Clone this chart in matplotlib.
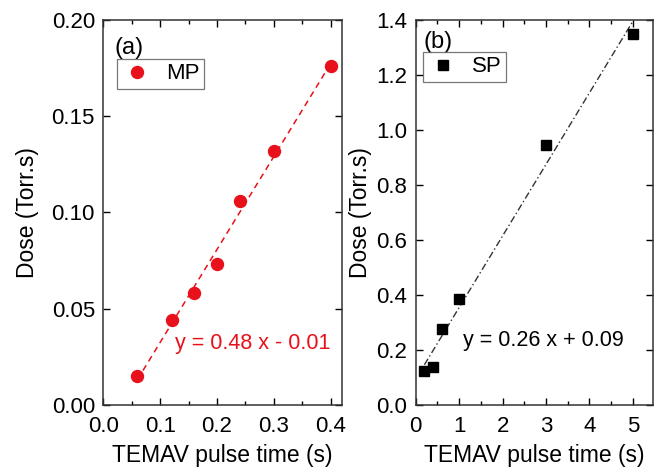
import numpy as np
import matplotlib
matplotlib.use("Agg")
import matplotlib.pyplot as plt
from matplotlib.ticker import MultipleLocator

plt.rcParams['font.family'] = ['Liberation Sans', 'DejaVu Sans']
plt.rcParams['font.size'] = 16

mp_time = [0.06, 0.12, 0.16, 0.20, 0.24, 0.30, 0.40]
mp_dose = [0.015, 0.044, 0.058, 0.073, 0.106, 0.132, 0.176]
sp_time = [0.2, 0.4, 0.6, 1.0, 3.0, 5.0]
sp_dose = [0.125, 0.140, 0.275, 0.385, 0.945, 1.350]

fig = plt.figure(figsize=(6.59, 4.69), dpi=100)
W, H = 659, 469
ax1 = fig.add_axes([103.3 / W, 1 - 405 / H, (342 - 103.3) / W, 385 / H])
ax2 = fig.add_axes([415.7 / W, 1 - 405 / H, (653.3 - 415.7) / W, 385 / H])

red = '#e8101a'

# panel a
ax1.plot(mp_time, mp_dose, 'o', color=red, ms=8.6, label='MP', zorder=3)
ca = np.polyfit(mp_time, mp_dose, 1)
xa = np.array([min(mp_time), max(mp_time)])
ax1.plot(xa, np.polyval(ca, xa), '--', color=red, lw=1.1, dashes=(4, 3))
ax1.set_xlim(0, 0.42)
ax1.set_ylim(0, 0.2)
ax1.xaxis.set_major_locator(MultipleLocator(0.1))
ax1.xaxis.set_minor_locator(MultipleLocator(0.05))
ax1.yaxis.set_major_locator(MultipleLocator(0.05))
ax1.yaxis.set_major_formatter(plt.FormatStrFormatter('%.2f'))
ax1.xaxis.set_major_formatter(plt.FormatStrFormatter('%.1f'))
ax1.set_xlabel('TEMAV pulse time (s)', labelpad=5, fontsize=16.5)
ax1.set_ylabel('Dose (Torr.s)', labelpad=9, fontsize=16.5)
ax1.text(0.126, 0.032, 'y = 0.48 x - 0.01', color=red, va='center', ha='left', fontsize=15.5)
ax1.text(0.02, 0.1855, '(a)', va='center', ha='left', fontsize=17)
leg1 = ax1.legend(loc='upper left', bbox_to_anchor=(0.057, 0.899), borderaxespad=0, frameon=True,
                  fancybox=False, edgecolor='#555555', handletextpad=0.6, borderpad=0.2,
                  handlelength=1.4, fontsize=16)
leg1.get_frame().set_linewidth(0.9)

# panel b
ax2.plot(sp_time, sp_dose, 's', color='black', ms=7.2, label='SP', zorder=3)
cb = np.polyfit(sp_time, sp_dose, 1)
xb = np.array([min(sp_time), max(sp_time)])
ax2.plot(xb, np.polyval(cb, xb), '-.', color='#333333', lw=1.0, dashes=(5, 2, 1, 2))
ax2.set_xlim(0, 5.47)
ax2.set_ylim(0, 1.4)
ax2.xaxis.set_major_locator(MultipleLocator(1))
ax2.xaxis.set_minor_locator(MultipleLocator(0.5))
ax2.yaxis.set_major_locator(MultipleLocator(0.2))
ax2.yaxis.set_major_formatter(plt.FormatStrFormatter('%.1f'))
ax2.set_xlabel('TEMAV pulse time (s)', labelpad=5, fontsize=16.5)
ax2.set_ylabel('Dose (Torr.s)', labelpad=3, fontsize=16.5)
ax2.text(1.09, 0.236, 'y = 0.26 x + 0.09', color='black', va='center', ha='left', fontsize=15.5)
ax2.text(0.18, 1.32, '(b)', va='center', ha='left', fontsize=17)
leg2 = ax2.legend(loc='upper left', bbox_to_anchor=(0.031, 0.917), borderaxespad=0, frameon=True,
                  fancybox=False, edgecolor='#555555', handletextpad=0.6, borderpad=0.2,
                  handlelength=1.4, fontsize=16)
leg2.get_frame().set_linewidth(0.9)

for ax in (ax1, ax2):
    ax.tick_params(which='both', direction='in', top=True, right=True, labelsize=16)
    ax.tick_params(axis='x', which='both', pad=8)
    ax.tick_params(axis='y', which='both', pad=6)
    ax.tick_params(which='major', length=5, width=1)
    ax.tick_params(which='minor', length=3, width=1)
    for s in ax.spines.values():
        s.set_linewidth(1.1)
        s.set_color('#333333')

fig.savefig('out.png', dpi=100)
